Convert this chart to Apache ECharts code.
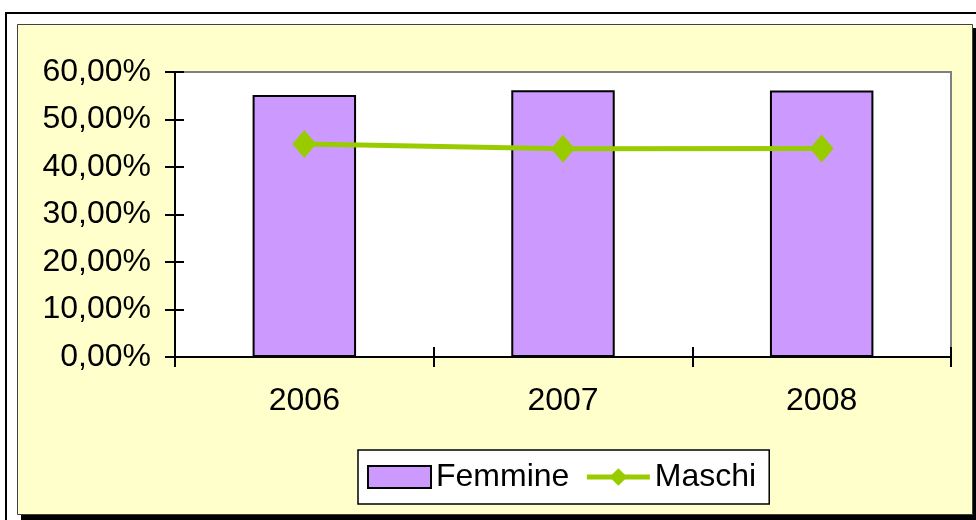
<!DOCTYPE html>
<html lang="it">
<head>
    <meta charset="UTF-8">
    <title>Femmine / Maschi</title>
    <script src="https://cdn.jsdelivr.net/npm/echarts@6/dist/echarts.min.js"></script>
    <style>
        html, body { margin: 0; padding: 0; background: #fff; }
        #chartmain { width: 976px; height: 520px; }
    </style>
</head>
<body>
<div id="chartmain"></div>
<script type="text/javascript">
    // dati
    var anni = ['2006', '2007', '2008'];
    var femmine = [55.16, 56.14, 56.10];
    var maschi = [44.84, 43.86, 43.90];
    var yTicks = { min: 0, max: 60, interval: 10 };

    var font = 'Arial, "Liberation Sans", sans-serif';

    function percento(v) {
        return v.toFixed(2).replace('.', ',') + '%';
    }

    var area = { left: 175, top: 72, width: 776, height: 285 };
    var tick = { color: '#000', width: 2 };

    var myChart = echarts.init(document.getElementById('chartmain'));
    myChart.setOption({
        backgroundColor: '#fff',
        animation: false,
        textStyle: { fontFamily: font },
        graphic: [
            // cornice esterna
            { type: 'rect', shape: { x: 6, y: 13, width: 990, height: 540 },
              style: { fill: 'none', stroke: '#000', lineWidth: 2 }, z: -10 },
            // ombra del pannello
            { type: 'rect', shape: { x: 21, y: 28, width: 955, height: 492 },
              style: { fill: '#000' }, z: -9 },
            // pannello giallo
            { type: 'rect', shape: { x: 17.5, y: 24.5, width: 955, height: 490 },
              style: { fill: '#FFFFCC', stroke: '#404040', lineWidth: 1 }, z: -8 }
        ],
        grid: [
            Object.assign({ show: true, backgroundColor: '#fff', borderColor: '#808080', borderWidth: 2 }, area),
            // seconda griglia solo per le tacche interne
            Object.assign({ show: false }, area)
        ],
        legend: {
            left: 358, top: 450,
            padding: [11, 13, 11, 9],
            backgroundColor: '#fff',
            borderColor: '#000', borderWidth: 1.5,
            itemWidth: 63, itemHeight: 22, itemGap: 15,
            textStyle: { fontSize: 32, color: '#000', fontFamily: font },
            data: [
                { name: 'Femmine', icon: 'rect' },
                { name: 'Maschi', lineStyle: { width: 5 } }
            ]
        },
        xAxis: [{
            type: 'category',
            data: anni,
            axisLine: { lineStyle: { color: '#000', width: 2 } },
            axisTick: { show: true, length: 10, lineStyle: tick },
            axisLabel: { fontSize: 32, color: '#000', margin: 28, fontFamily: font },
            splitLine: { show: false }
        }, {
            type: 'category',
            gridIndex: 1,
            data: anni,
            position: 'bottom',
            axisLine: { show: false },
            axisTick: { show: true, inside: true, length: 10, lineStyle: tick },
            axisLabel: { show: false },
            splitLine: { show: false }
        }],
        yAxis: [{
            type: 'value',
            min: yTicks.min, max: yTicks.max, interval: yTicks.interval,
            axisLine: { show: true, lineStyle: { color: '#000', width: 2 } },
            axisTick: { show: true, length: 10, lineStyle: tick },
            axisLabel: { fontSize: 32, color: '#000', margin: 24, fontFamily: font, formatter: percento },
            splitLine: { show: false }
        }, {
            type: 'value',
            gridIndex: 1,
            position: 'left',
            min: yTicks.min, max: yTicks.max, interval: yTicks.interval,
            axisLine: { show: false },
            axisTick: { show: true, inside: true, length: 9, lineStyle: tick },
            axisLabel: { show: false },
            splitLine: { show: false }
        }],
        series: [{
            name: 'Femmine',
            type: 'bar',
            barWidth: '40%',
            data: femmine,
            itemStyle: { color: '#CC99FF', borderColor: '#000', borderWidth: 2 }
        }, {
            name: 'Maschi',
            type: 'line',
            data: maschi,
            symbol: 'diamond',
            symbolSize: [24, 28],
            lineStyle: { color: '#99CC00', width: 5 },
            itemStyle: { color: '#99CC00' },
            z: 5
        }]
    });
</script>
</body>
</html>
